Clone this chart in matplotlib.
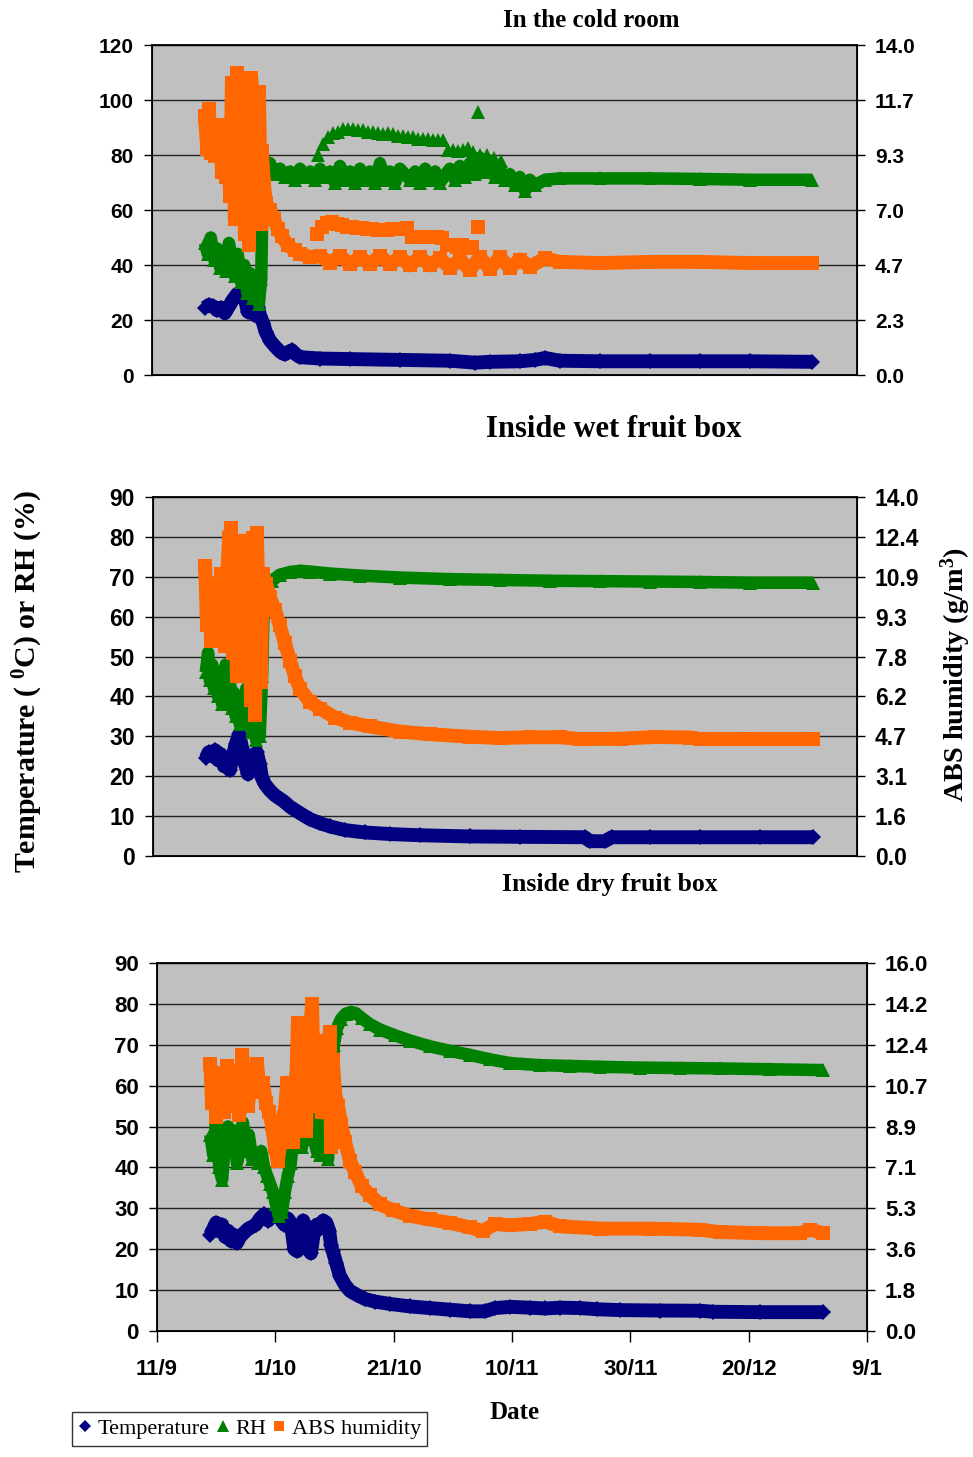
import matplotlib
matplotlib.use('Agg')
import matplotlib.pyplot as plt
from matplotlib import font_manager
from matplotlib.lines import Line2D

# days are counted from 11/9; ABS humidity in g/m3, temperature in C, RH in %

# ---- In the cold room ----
cold_temp_day = [9.0, 9.7, 10.4, 11.1, 11.7, 12.4, 13.1, 13.8, 14.5, 15.1, 15.8, 16.3, 16.9, 17.4,
                 17.9, 18.4, 18.9, 19.4, 20.1, 20.9, 21.8, 22.6, 23.3, 23.8, 24.5, 25.2, 28.6, 33.7,
                 42.2, 50.7, 55.0, 57.5, 62.6, 65.2, 66.9, 69.4, 76.3, 84.8, 93.3, 101.8, 112.3]
cold_temp = [24.5, 25.5, 25, 23.5, 24.5, 22.5, 25, 27.5, 29.5, 30, 28, 23, 29, 22,
             27, 21.5, 19, 15.5, 12.5, 10.5, 8.5, 7.5, 8.5, 9, 7.5, 6.5, 6, 5.8,
             5.5, 5.2, 4.5, 4.8, 5, 5.5, 6.2, 5.2, 5, 5, 5, 5, 4.8]

cold_rh_day = [9.0, 9.5, 10.0, 10.6, 11.1, 11.6, 12.1, 12.6, 13.1, 13.6, 14.1, 14.6, 15.1, 15.7,
               16.2, 16.7, 17.2, 17.7, 18.2, 18.6, 18.9, 19.4, 20.1, 20.9, 21.8, 22.6, 23.5, 24.3,
               25.2, 26.0, 26.9, 27.7, 28.6, 29.4, 30.3, 31.1, 32.0, 32.9, 33.7, 34.6, 35.4, 36.3,
               37.1, 38.0, 38.8, 39.7, 40.5, 41.4, 42.2, 43.9, 44.8, 45.6, 46.5, 47.3, 48.2, 49.0,
               50.7, 51.6, 52.4, 53.3, 54.1, 55.0, 55.8, 56.7, 57.5, 58.4, 59.2, 60.1, 60.9, 61.8,
               62.6, 63.5, 64.3, 65.2, 66.9, 69.4, 76.3, 84.8, 93.3, 101.8, 112.3]
cold_rh = [48, 44, 50, 42, 46, 39, 45, 38, 48, 42, 36, 44, 34, 40,
           30, 37, 28, 34, 26, 35, 80, 74, 77, 73, 75, 72, 74, 71,
           75, 72, 74, 71, 75, 72, 74, 70, 76, 71, 74, 70, 75, 71,
           74, 70, 77, 71, 74, 70, 75, 71, 74, 70, 75, 71, 74, 70,
           75, 71, 76, 72, 77, 73, 79, 74, 76, 72, 75, 71, 73, 69,
           72, 67, 71, 69, 71, 71.5, 71.5, 71.5, 71.3, 71, 71]
# second group of RH readings seen above the main band
cold_rh2_day = [28.3, 29.1, 30.0, 30.8, 31.7, 32.5, 33.4, 34.2, 35.1, 35.9, 36.8, 37.6, 38.5, 39.3,
                40.2, 41.0, 41.9, 42.7, 43.6, 44.4, 45.3, 46.1, 47.0, 47.8, 48.7, 49.5, 50.4, 51.2,
                52.1, 52.9, 53.8, 54.6, 55.5, 55.8, 57.0, 58.2, 59.4]
cold_rh2 = [80, 84, 86.5, 88, 88.5, 89.5, 89.5, 89.5, 89, 89, 88.5, 88.5, 88, 87.5,
            88, 87.5, 87, 87, 86.5, 86.5, 86, 86, 86, 85.5, 85.5, 85.5, 82, 82,
            81.5, 82, 82.5, 81, 95.5, 80, 80, 79, 78]

cold_abs_day = [9.0, 9.4, 9.7, 10.0, 10.4, 10.7, 11.1, 11.6, 11.9, 12.3, 12.6, 12.9, 13.3, 13.6,
                14.0, 14.1, 14.5, 14.8, 15.1, 15.5, 15.8, 16.2, 16.5, 16.9, 17.2, 17.5, 17.9, 18.2,
                18.6, 18.7, 19.1, 19.4, 20.1, 20.8, 21.4, 22.1, 23.1, 24.3, 25.2, 26.9, 28.6, 30.3,
                32.0, 33.7, 35.4, 37.1, 38.8, 40.5, 42.2, 43.9, 45.6, 47.3, 49.0, 50.7, 52.4, 54.1,
                55.8, 57.5, 59.2, 60.9, 62.6, 64.3, 66.9, 69.4, 76.3, 84.8, 93.3, 101.8, 112.3]
cold_abs = [11.0, 9.6, 11.3, 9.4, 10.2, 9.3, 9.8, 10.6, 8.6, 10.4, 8.4, 9.6, 7.6, 12.4,
            8.2, 6.6, 12.8, 10.0, 7.2, 11.8, 6.0, 10.6, 5.5, 12.6, 9.8, 11.6, 8.6, 12.0,
            6.4, 9.5, 8.0, 7.3, 7.0, 6.6, 6.2, 5.9, 5.5, 5.3, 5.15, 5.0, 5.05, 4.75,
            5.05, 4.7, 5.0, 4.7, 5.05, 4.7, 5.0, 4.65, 5.0, 4.65, 4.95, 4.55, 4.9, 4.45,
            5.0, 4.5, 5.0, 4.55, 4.9, 4.6, 4.95, 4.8, 4.75, 4.8, 4.8, 4.75, 4.75]
cold_abs2_day = [28.1, 28.9, 29.8, 30.6, 31.5, 32.3, 33.2, 34.0, 34.9, 35.7, 36.6, 37.4, 38.3, 39.1,
                 40.0, 40.9, 41.7, 42.6, 43.4, 44.3, 45.1, 46.0, 46.8, 47.7, 48.5, 49.4, 50.2, 51.1,
                 51.9, 52.8, 53.6, 54.5, 55.5]
cold_abs2 = [6.0, 6.3, 6.45, 6.5, 6.4, 6.35, 6.3, 6.3, 6.25, 6.25, 6.2, 6.2, 6.15, 6.15,
             6.15, 6.2, 6.2, 6.2, 6.25, 5.85, 5.85, 5.85, 5.85, 5.85, 5.85, 5.8, 5.5, 5.5,
             5.45, 5.5, 5.4, 5.45, 6.3]

# ---- Inside wet fruit box ----
wet_temp_day = [9.0, 9.5, 10.1, 10.6, 11.1, 11.6, 12.1, 12.6, 13.1, 13.6, 14.1, 14.7, 15.2, 15.7,
                16.2, 16.7, 17.2, 17.7, 18.2, 18.6, 19.1, 19.9, 20.8, 22.2, 23.4, 25.1, 26.8, 28.5,
                30.2, 32.7, 36.1, 40.4, 45.5, 54.0, 62.6, 73.6, 74.5, 77.0, 78.2, 84.7, 93.2, 103.5,
                112.5]
wet_temp = [24.5, 26, 25, 26.5, 24, 25.5, 22.5, 24, 21.5, 25, 28, 30.5, 27, 23,
            20.5, 25, 22, 26, 23, 19.5, 18, 16.5, 15.2, 13.8, 12.3, 10.7, 9.2, 8.2,
            7.4, 6.5, 5.9, 5.5, 5.2, 4.9, 4.8, 4.7, 3.7, 3.7, 4.7, 4.7, 4.7, 4.7,
            4.7]

wet_rh_day = [9.0, 9.4, 9.7, 10.1, 10.4, 10.7, 11.1, 11.4, 11.8, 12.1, 12.4, 12.8, 13.1, 13.5,
              13.8, 14.1, 14.5, 14.8, 15.2, 15.5, 15.9, 16.2, 16.5, 16.9, 17.2, 17.6, 17.9, 18.2,
              18.6, 18.9, 19.4, 20.3, 21.6, 23.4, 25.1, 26.8, 30.2, 35.3, 42.1, 50.6, 59.1, 67.7,
              76.2, 84.7, 93.2, 101.8, 112.5]
wet_rh = [46, 51, 44, 48, 42, 46, 40, 44, 38, 42, 48, 40, 44, 37,
          41, 35, 40, 33, 38, 36, 42, 34, 38, 31, 36, 29, 35, 30,
          45, 64, 67, 69, 70.5, 71.2, 71.5, 71.3, 70.8, 70.3, 69.8, 69.4, 69.2, 69,
          68.9, 68.8, 68.7, 68.5, 68.5]

wet_abs_day = [8.9, 9.2, 9.5, 9.9, 10.2, 10.6, 10.9, 11.2, 11.6, 11.9, 12.3, 12.6, 13.0, 13.3,
               13.6, 14.0, 14.3, 14.7, 15.0, 15.3, 15.7, 16.0, 16.4, 16.7, 17.0, 17.4, 17.7, 18.1,
               18.4, 18.7, 19.3, 19.9, 20.8, 21.6, 22.5, 23.4, 24.2, 25.1, 26.8, 28.5, 31.0, 33.6,
               37.0, 42.1, 47.2, 54.0, 59.1, 64.3, 69.4, 72.8, 79.6, 85.6, 91.5, 93.2, 101.8, 112.5]
wet_abs = [11.3, 9.0, 10.6, 8.4, 10.0, 9.2, 10.4, 8.8, 11.0, 9.5, 8.2, 10.8, 12.4, 12.8,
           7.9, 10.5, 7.0, 11.6, 9.6, 12.3, 8.6, 7.8, 10.6, 6.1, 12.4, 5.5, 12.6, 9.4,
           6.8, 11.0, 10.6, 10.1, 9.6, 9.0, 8.3, 7.6, 7.0, 6.5, 6.0, 5.75, 5.4, 5.2,
           5.05, 4.85, 4.75, 4.65, 4.6, 4.63, 4.63, 4.56, 4.57, 4.64, 4.62, 4.56, 4.56, 4.56]

# ---- Inside dry fruit box ----
dry_temp_day = [9.0, 9.5, 10.0, 10.5, 11.0, 11.5, 12.0, 12.5, 13.0, 13.5, 14.0, 14.7, 15.4, 16.1,
                16.7, 17.4, 18.1, 18.8, 19.4, 20.1, 20.8, 21.5, 22.1, 22.6, 23.2, 23.7, 24.2, 24.7,
                25.2, 25.5, 26.0, 26.5, 27.0, 27.5, 28.1, 28.6, 29.1, 29.4, 29.7, 30.3, 30.9, 31.8,
                32.6, 33.8, 35.2, 36.8, 39.4, 42.8, 46.1, 49.5, 52.9, 55.4, 57.1, 59.7, 63.0, 65.6,
                68.1, 71.5, 74.4, 78.2, 85.0, 91.8, 94.0, 101.9, 112.6]
dry_temp = [23.5, 25, 26.5, 24.5, 26, 23, 24.5, 22, 23.5, 21.5, 23, 24, 25, 25.5,
            26, 27.5, 28.5, 27, 28, 28.8, 27.5, 26, 27.5, 26.5, 20, 19.5, 23, 27,
            25, 20, 19, 24, 26, 25, 27, 26.5, 24.5, 21, 19.5, 16.5, 13.5, 11.2,
            9.8, 8.8, 7.8, 7.2, 6.6, 6.0, 5.6, 5.2, 4.8, 4.8, 5.6, 5.9, 5.7, 5.5,
            5.7, 5.6, 5.3, 5.1, 5.0, 4.95, 4.7, 4.6, 4.6]

dry_rh_day = [9.0, 9.5, 10.0, 10.5, 11.0, 11.5, 12.0, 12.5, 13.0, 13.5, 14.0, 14.5, 15.0, 15.5,
              16.1, 16.6, 17.1, 17.6, 18.1, 18.6, 19.1, 19.6, 20.1, 20.6, 21.1, 21.6, 22.1, 22.6,
              23.2, 23.5, 24.0, 24.5, 25.0, 25.5, 26.0, 26.5, 27.0, 27.5, 27.9, 28.4, 28.9, 29.4,
              29.9, 30.4, 31.1, 31.9, 32.8, 33.6, 34.6, 36.0, 37.7, 40.2, 42.8, 46.1, 49.5, 52.9,
              56.3, 59.7, 64.7, 69.8, 74.9, 81.6, 88.4, 95.1, 103.6, 112.6]
dry_rh = [48, 43, 52, 40, 37, 46, 50, 44, 49, 41, 44, 51, 46, 48,
          42, 43, 41, 44, 40, 38, 36, 34, 31, 28, 29, 34, 38, 41,
          50, 63, 46, 45, 56, 60, 52, 47, 44, 43, 57, 46, 42, 62,
          70, 74, 76.3, 77.6, 78, 77.7, 76.5, 75, 73.7, 72.3, 71, 69.6, 68.5, 67.5,
          66.4, 65.5, 65, 64.8, 64.6, 64.4, 64.3, 64.2, 64, 63.8]

dry_abs_day = [9.0, 9.3, 9.6, 10.0, 10.3, 10.8, 11.3, 11.8, 12.3, 12.8, 13.4, 13.9, 14.4, 14.9,
               15.4, 15.9, 16.4, 16.9, 17.4, 17.9, 18.4, 18.9, 19.4, 19.9, 20.4, 21.0, 21.5, 22.0,
               22.5, 23.0, 23.5, 23.8, 24.2, 24.5, 24.8, 25.2, 25.5, 25.9, 26.2, 26.5, 26.9, 27.2,
               27.5, 27.9, 28.4, 28.9, 29.2, 29.4, 29.7, 30.1, 30.6, 31.1, 31.8, 32.6, 33.5, 34.6,
               36.0, 37.7, 39.9, 42.8, 46.1, 49.5, 52.9, 55.1, 57.1, 59.7, 63.0, 65.6, 68.1, 74.9,
               83.3, 91.8, 95.1, 101.9, 108.7, 110.4, 112.6]
dry_abs = [11.6, 9.9, 10.8, 9.3, 10.0, 11.2, 9.5, 11.5, 10.2, 9.8, 11.3, 9.4, 12.0, 10.2,
           9.8, 11.4, 10.5, 11.6, 10.4, 10.8, 9.9, 9.5, 9.0, 8.0, 7.4, 8.4, 9.3, 10.8,
           9.0, 8.2, 10.5, 13.4, 12.2, 9.5, 11.5, 8.7, 12.0, 13.2, 14.2, 11.0, 9.8, 12.6,
           11.4, 9.5, 10.6, 12.4, 13.0, 8.0, 11.8, 10.3, 9.8, 9.0, 8.2, 7.4, 6.9, 6.3,
           5.9, 5.5, 5.25, 5.0, 4.85, 4.7, 4.5, 4.35, 4.65, 4.6, 4.65, 4.75, 4.55, 4.45,
           4.45, 4.4, 4.3, 4.25, 4.25, 4.4, 4.25]

date_ticks = [0, 20, 40, 60, 80, 100, 120]
date_labels = ['11/9', '1/10', '21/10', '10/11', '30/11', '20/12', '9/1']

NAVY = '#000080'
GREEN = '#008000'
ORANGE = '#ff6600'

names = {f.name for f in font_manager.fontManager.ttflist}
NARROW = 'Liberation Sans Narrow' if 'Liberation Sans Narrow' in names else 'Liberation Sans'

plt.rcParams['mathtext.fontset'] = 'custom'
plt.rcParams['mathtext.rm'] = 'Liberation Serif:bold'
plt.rcParams['mathtext.it'] = 'Liberation Serif:bold'
plt.rcParams['mathtext.bf'] = 'Liberation Serif:bold'

fig = plt.figure(figsize=(9.73, 14.57), dpi=100)

temp_style = dict(color=NAVY, marker='D', ms=8, lw=10, mew=0,
                  solid_capstyle='butt', solid_joinstyle='round')
rh_style = dict(color=GREEN, marker='^', ms=10, lw=9, mew=0,
                solid_capstyle='butt', solid_joinstyle='round')
abs_style = dict(color=ORANGE, marker='s', ms=9.5, lw=10, mew=0,
                 solid_capstyle='butt', solid_joinstyle='round')


def draw_panel(rect, t_d, t, r_d, r, a_d, a, ymax, ystep, rmax, tick_font, tick_size):
	ax = fig.add_axes(rect)
	ax.set_facecolor('#c0c0c0')
	ax.set_xlim(0, 120)
	ax.set_ylim(0, ymax)
	lticks = list(range(0, ymax + 1, ystep))
	ax.set_yticks(lticks)
	ax.yaxis.grid(True, color='#222222', lw=1.0)
	ax.set_axisbelow(True)
	ax.plot(t_d, t, **temp_style)
	ax.plot(r_d, r, **rh_style)
	for s in ax.spines.values():
		s.set_linewidth(1.3)
	ax.tick_params(axis='y', direction='out', length=6, width=1, pad=7)
	for lab in ax.get_yticklabels():
		lab.set_fontfamily(tick_font)
		lab.set_fontweight('bold')
		lab.set_fontsize(tick_size)

	ax2 = ax.twinx()
	ax2.set_ylim(0, rmax)
	n = len(lticks) - 1
	ax2.set_yticks([rmax * i / n for i in range(n + 1)])
	ax2.set_yticklabels(['%.1f' % (rmax * i / n) for i in range(n + 1)],
	                    fontfamily=tick_font, fontweight='bold', fontsize=tick_size)
	ax2.tick_params(axis='y', direction='out', length=6, width=1, pad=7)
	ax2.plot(a_d, a, **abs_style)
	ax2.set_xlim(0, 120)
	return ax, ax2


ax1, ax1b = draw_panel([0.1562, 0.7426, 0.7246, 0.2265],
                       cold_temp_day, cold_temp, cold_rh_day, cold_rh, cold_abs_day, cold_abs,
                       120, 20, 14.0, 'Liberation Sans', 15)
ax1.plot(cold_rh2_day, cold_rh2, ls='none', color=GREEN, marker='^', ms=10, mew=0)
ax1b.plot(cold_abs2_day, cold_abs2, ls='none', color=ORANGE, marker='s', ms=9.5, mew=0)
ax1.set_xticks([])

ax2, ax2b = draw_panel([0.1572, 0.4125, 0.7235, 0.2464],
                       wet_temp_day, wet_temp, wet_rh_day, wet_rh, wet_abs_day, wet_abs,
                       90, 10, 14.0, 'Liberation Sans', 16.5)
ax2.set_xticks([])

ax3, ax3b = draw_panel([0.1614, 0.0865, 0.7297, 0.2526],
                       dry_temp_day, dry_temp, dry_rh_day, dry_rh, dry_abs_day, dry_abs,
                       90, 10, 16.0, NARROW, 16)
ax3.set_xticks(date_ticks)
ax3.set_xticklabels(date_labels, fontfamily=NARROW, fontweight='bold', fontsize=16)
ax3.tick_params(axis='x', direction='out', length=8, width=1, pad=12)

serif = 'Liberation Serif'
fig.text(0.608, 0.9856, 'In the cold room', ha='center', va='center',
         fontfamily=serif, fontweight='bold', fontsize=18)
fig.text(0.631, 0.7049, 'Inside wet fruit box', ha='center', va='center',
         fontfamily=serif, fontweight='bold', fontsize=22)
fig.text(0.627, 0.3926, 'Inside dry fruit box', ha='center', va='center',
         fontfamily=serif, fontweight='bold', fontsize=18.5)
fig.text(0.529, 0.0302, 'Date', ha='center', va='center',
         fontfamily=serif, fontweight='bold', fontsize=18)
fig.text(0.029, 0.532, r'Temperature ( $^{0}$C) or RH (%)', rotation=90, ha='center', va='center',
         fontfamily=serif, fontweight='bold', fontsize=21.5)
fig.text(0.982, 0.537, r'ABS humidity (g/m$^{3}$)', rotation=90, ha='center', va='center',
         fontfamily=serif, fontweight='bold', fontsize=20.3)

handles = [Line2D([], [], color=NAVY, marker='D', ls='none', ms=6, mew=0),
           Line2D([], [], color=GREEN, marker='^', ls='none', ms=8, mew=0),
           Line2D([], [], color=ORANGE, marker='s', ls='none', ms=7, mew=0)]
leg = fig.legend(handles, ['Temperature', 'RH', 'ABS humidity'], loc='upper left',
                 bbox_to_anchor=(72 / 973, 1 - 1412 / 1457), ncol=3, frameon=True,
                 fancybox=False, edgecolor='black', handlelength=0.6, handletextpad=0.25,
                 columnspacing=0.3, borderpad=0.3, borderaxespad=0,
                 prop={'family': serif, 'size': 16})
leg.get_frame().set_linewidth(1)

fig.savefig('out.png', dpi=100)
